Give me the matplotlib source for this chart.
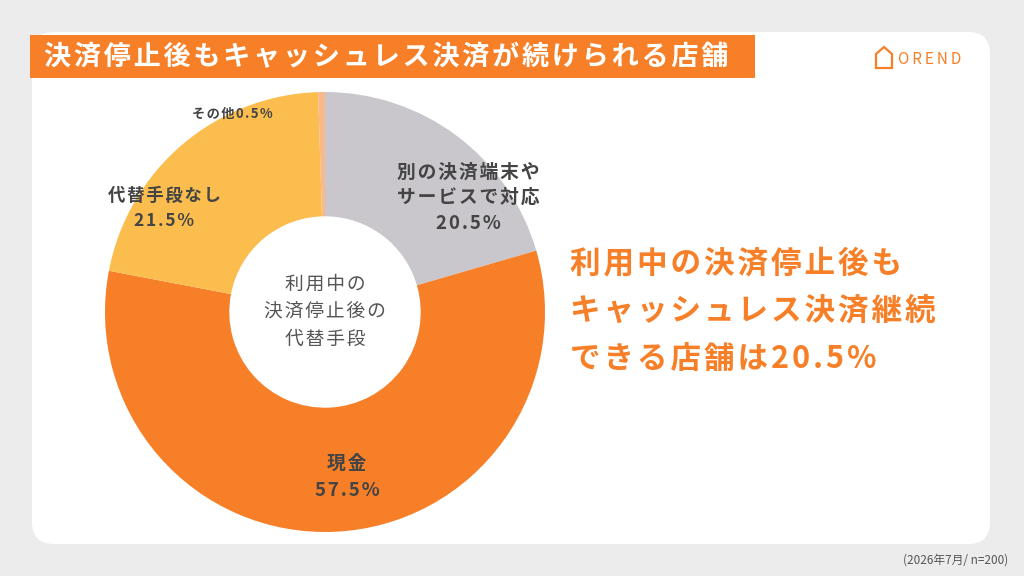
import matplotlib
matplotlib.use('Agg')
import matplotlib.pyplot as plt
from matplotlib.patches import FancyBboxPatch, Rectangle, Polygon

plt.rcParams['font.family'] = ['Noto Sans CJK JP', 'DejaVu Sans']

labels = ['別の決済端末や\nサービスで対応', '現金', '代替手段なし', 'その他']
values = [20.5, 57.5, 21.5, 0.5]
colors = ['#c9c7cc', '#f67f28', '#fbbe4e', '#f9b98a']
title = '決済停止後もキャッシュレス決済が続けられる店舗'
center_text = '利用中の\n決済停止後の\n代替手段'
message = '利用中の決済停止後も\nキャッシュレス決済継続\nできる店舗は20.5%'
note = '(2026年7月/ n=200)'


def spaced(s, sep='\u200a'):
    # letter spacing like the original
    return '\n'.join(sep.join(line) for line in s.split('\n'))


W, H = 1024, 576
fig = plt.figure(figsize=(W / 100, H / 100), dpi=100)
fig.patch.set_facecolor('#ececec')

bg = fig.add_axes([0, 0, 1, 1])
bg.set_xlim(0, W)
bg.set_ylim(H, 0)
bg.axis('off')
bg.add_patch(FancyBboxPatch((32, 32), 958, 512, boxstyle='round,pad=0,rounding_size=22',
                            facecolor='white', edgecolor='none'))
bg.add_patch(Rectangle((30, 35), 725, 43, facecolor='#f67f28', edgecolor='none'))
bg.text(44, 57, spaced(title), color='white', fontsize=19.5, fontweight='bold', ha='left', va='center')
# small house-shaped logo mark
bg.add_patch(Polygon([(876, 54), (884, 47), (892, 54), (892, 68), (876, 68)], closed=True,
                     facecolor='none', edgecolor='#f67f28', linewidth=1.6))
bg.text(930, 60, spaced('OREND', '\u2009'), color='#f67f28', fontsize=11, ha='center', va='center')
bg.text(570, 312, spaced(message), color='#f67f28', fontsize=22, fontweight='bold', ha='left',
        va='center', linespacing=1.65)
bg.text(1008, 560, note, color='#555555', fontsize=8.5, ha='right', va='center')

ax = fig.add_axes([105 / W, (H - 532) / H, 440 / W, 440 / H])
ax.pie(values, colors=colors, startangle=90, counterclock=False,
       wedgeprops=dict(width=0.565, edgecolor='none'))
ax.set_aspect('equal')
ax.set_xlim(-1, 1)
ax.set_ylim(-1, 1)

txt = dict(color='#444444', fontweight='bold', ha='center', va='center')
ax.text(0, 0, spaced(center_text), fontsize=13.5, linespacing=1.4, color='#555555', ha='center', va='center')
ax.text(0.65, 0.52, spaced(labels[0] + '\n20.5%'), fontsize=13.5, linespacing=1.45, **txt)
ax.text(0.1, -0.75, spaced(labels[1] + '\n57.5%'), fontsize=13.5, linespacing=1.5, **txt)
ax.text(-0.73, 0.47, spaced(labels[2] + '\n21.5%'), fontsize=12.5, linespacing=1.5, **txt)
ax.text(-0.42, 0.9, spaced(labels[3] + '0.5%'), fontsize=9.5, **txt)

fig.savefig('out.png', dpi=100)
